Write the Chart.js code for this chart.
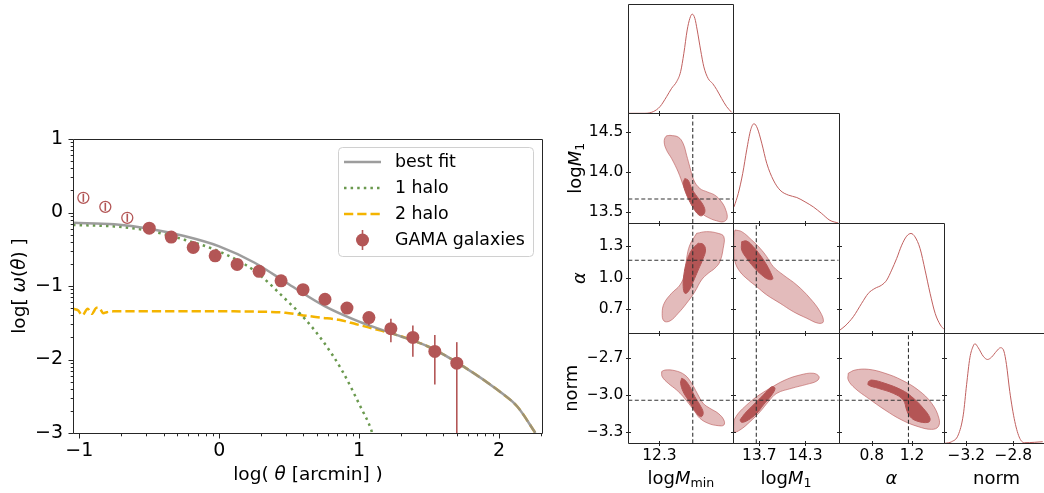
<!DOCTYPE html>
<html>
<head>
<meta charset="utf-8">
<script src="https://cdn.jsdelivr.net/npm/chart.js@4.4.0/dist/chart.umd.min.js"></script>
<style>
  html, body { margin: 0; padding: 0; background: #fff; }
  #wrap { position: relative; width: 1044px; height: 493px; overflow: hidden; }
  canvas { position: absolute; left: 0; top: 0; }
</style>
</head>
<body>
<div id="wrap"></div>
<script>
// ---- left panel: w(theta) ----
const thetaData = [-0.500, -0.343, -0.186, -0.029, 0.128, 0.285, 0.442, 0.599, 0.756, 0.913, 1.070, 1.227, 1.384, 1.541, 1.698];
const wData     = [-0.213, -0.335, -0.476, -0.590, -0.707, -0.800, -0.930, -1.050, -1.180, -1.300, -1.430, -1.580, -1.700, -1.890, -2.050];
const wErrHigh  = [-0.190, -0.310, -0.450, -0.565, -0.680, -0.770, -0.900, -1.015, -1.140, -1.250, -1.355, -1.445, -1.536, -1.668, -1.764];
const wErrLow   = [-0.235, -0.360, -0.500, -0.615, -0.735, -0.830, -0.960, -1.085, -1.220, -1.360, -1.536, -1.764, -1.964, -2.340, -3.600];

const thetaOpen    = [-0.971, -0.814, -0.657];
const wOpen        = [0.200, 0.077, -0.072];
const wOpenErrHigh = [0.255, 0.132, -0.017];
const wOpenErrLow  = [0.145, 0.022, -0.127];

const fitTheta = [-1.045, -0.75, -0.5, -0.25, 0, 0.25, 0.5, 0.75, 1.0, 1.25, 1.5, 1.75, 2.0, 2.13, 2.26];
const fitW     = [-0.14, -0.16, -0.22, -0.32, -0.46, -0.68, -0.98, -1.27, -1.485, -1.655, -1.83, -2.10, -2.43, -2.64, -3.0];

const oneHaloTheta = [-1.045, -0.75, -0.5, -0.25, 0, 0.25, 0.474, 0.614, 0.741, 0.881, 1.009, 1.085, 1.10];
const oneHaloW     = [-0.17, -0.19, -0.25, -0.37, -0.53, -0.79, -1.18, -1.45, -1.75, -2.16, -2.64, -2.95, -3.05];

const twoHaloTheta = [-1.043, -1.007, -0.979, -0.94, -0.911, -0.876, -0.852, -0.829, -0.804, -0.757, -0.5, 0, 0.3, 0.474, 0.6, 0.727, 0.856, 0.98, 1.11, 1.25, 1.5, 1.75, 2.0, 2.13, 2.26];
const twoHaloW     = [-1.31, -1.333, -1.40, -1.31, -1.378, -1.297, -1.31, -1.37, -1.356, -1.345, -1.345, -1.345, -1.35, -1.364, -1.40, -1.43, -1.46, -1.52, -1.585, -1.655, -1.83, -2.10, -2.43, -2.64, -3.0];

const thetaTicks = [-1, 0, 1, 2];
const thetaTickLabels = ['\u22121', '0', '1', '2'];
const wTicks = [-3, -2, -1, 0, 1];
const wTickLabels = ['\u22123', '\u22122', '\u22121', '0', '1'];

// ---- right panel: corner plot ----
const truthMmin = 12.6, truthM1 = 13.66, truthAlpha = 1.165, truthNorm = -3.04;

const mminTicks = [12.3], mminTickLabels = ['12.3'];
const m1XTicks = [13.7, 14.3], m1XTickLabels = ['13.7', '14.3'];
const m1YTicks = [13.5, 14.0, 14.5], m1YTickLabels = ['13.5', '14.0', '14.5'];
const alphaXTicks = [0.8, 1.2], alphaXTickLabels = ['0.8', '1.2'];
const alphaYTicks = [0.7, 1.0, 1.3], alphaYTickLabels = ['0.7', '1.0', '1.3'];
const normXTicks = [-3.2, -2.8], normXTickLabels = ['\u22123.2', '\u22122.8'];
const normYTicks = [-3.3, -3.0, -2.7], normYTickLabels = ['\u22123.3', '\u22123.0', '\u22122.7'];

const mminGrid = [12.02, 12.17, 12.245, 12.305, 12.365, 12.41, 12.455, 12.491, 12.52, 12.55, 12.574, 12.595, 12.619, 12.64, 12.671, 12.70, 12.739, 12.779, 12.815, 12.86, 12.905, 12.95];
const mminPdf  = [0, 0, 0.017, 0.067, 0.168, 0.252, 0.319, 0.42, 0.605, 0.84, 0.957, 1, 0.957, 0.84, 0.637, 0.468, 0.35, 0.30, 0.24, 0.15, 0.067, 0.01];
const m1Grid = [13.369, 13.425, 13.483, 13.535, 13.587, 13.63, 13.673, 13.731, 13.796, 13.882, 13.97, 14.078, 14.188, 14.296, 14.404, 14.514, 14.62, 14.73];
const m1Pdf  = [0.162, 0.298, 0.50, 0.737, 0.939, 1, 0.956, 0.804, 0.602, 0.433, 0.331, 0.281, 0.257, 0.213, 0.162, 0.095, 0.027, 0];
const alphaGrid = [0.475, 0.535, 0.617, 0.70, 0.766, 0.832, 0.899, 0.949, 0.998, 1.048, 1.098, 1.147, 1.19, 1.23, 1.28, 1.33, 1.38, 1.43, 1.482, 1.518];
const alphaPdf  = [0.026, 0.073, 0.166, 0.30, 0.40, 0.45, 0.483, 0.533, 0.633, 0.75, 0.883, 0.973, 1, 0.966, 0.85, 0.633, 0.40, 0.20, 0.083, 0.04];
const normGrid = [-3.381, -3.324, -3.268, -3.225, -3.197, -3.169, -3.141, -3.126, -3.098, -3.056, -3.019, -2.985, -2.942, -2.909, -2.88, -2.858, -2.83, -2.787, -2.745, -2.703, -2.618, -2.55];
const normPdf  = [0, 0.016, 0.084, 0.286, 0.589, 0.859, 0.976, 1, 0.96, 0.875, 0.842, 0.865, 0.926, 0.96, 0.926, 0.791, 0.521, 0.218, 0.05, 0.006, 0.01, 0.016];

// contours: outer = 2 sigma, inner = 1 sigma
const m1MminOuterX = [12.395, 12.469, 12.514, 12.545, 12.574, 12.610, 12.664, 12.730, 12.799, 12.859, 12.898, 12.909, 12.874, 12.814, 12.754, 12.679, 12.619, 12.559, 12.514, 12.469, 12.41, 12.365, 12.343, 12.359];
const m1MminOuterY = [14.459, 14.437, 14.355, 14.209, 14.062, 13.896, 13.793, 13.75, 13.709, 13.625, 13.521, 13.418, 13.375, 13.388, 13.418, 13.48, 13.563, 13.688, 13.834, 14.0, 14.168, 14.271, 14.375, 14.446];
const m1MminInnerX = [12.529, 12.559, 12.59, 12.64, 12.694, 12.709, 12.679, 12.64, 12.599, 12.559, 12.529, 12.514];
const m1MminInnerY = [13.918, 13.896, 13.793, 13.688, 13.584, 13.5, 13.45, 13.48, 13.563, 13.668, 13.771, 13.863];

const alphaMminOuterX = [12.635, 12.724, 12.829, 12.88, 12.874, 12.844, 12.799, 12.739, 12.679, 12.619, 12.545, 12.469, 12.395, 12.341, 12.325, 12.343, 12.41, 12.485, 12.529, 12.545, 12.574];
const alphaMminOuterY = [1.420, 1.436, 1.420, 1.388, 1.278, 1.151, 1.089, 1.041, 0.978, 0.867, 0.757, 0.662, 0.589, 0.589, 0.662, 0.757, 0.852, 0.930, 1.041, 1.183, 1.31];
const alphaMminInnerX = [12.649, 12.694, 12.715, 12.694, 12.649, 12.604, 12.559, 12.529, 12.514, 12.52, 12.545, 12.59];
const alphaMminInnerY = [1.326, 1.316, 1.262, 1.183, 1.072, 0.962, 0.867, 0.852, 0.914, 1.025, 1.151, 1.262];

const alphaM1OuterX = [13.382, 13.47, 13.60, 13.709, 13.796, 13.882, 14.013, 14.188, 14.361, 14.492, 14.535, 14.47, 14.318, 14.143, 13.97, 13.796, 13.666, 13.556, 13.447, 13.382, 13.369, 13.369];
const alphaM1OuterY = [1.452, 1.436, 1.357, 1.278, 1.199, 1.104, 1.025, 0.93, 0.804, 0.677, 0.582, 0.567, 0.615, 0.677, 0.757, 0.836, 0.914, 0.978, 1.056, 1.151, 1.278, 1.404];
const alphaM1InnerX = [13.47, 13.535, 13.621, 13.709, 13.796, 13.861, 13.874, 13.817, 13.731, 13.621, 13.535, 13.47];
const alphaM1InnerY = [1.341, 1.347, 1.293, 1.215, 1.12, 1.025, 0.987, 0.984, 1.025, 1.104, 1.183, 1.262];

const normMminOuterX = [12.32, 12.35, 12.44, 12.529, 12.59, 12.64, 12.694, 12.754, 12.829, 12.88, 12.88, 12.829, 12.739, 12.664, 12.619, 12.574, 12.514, 12.455, 12.379, 12.325];
const normMminOuterY = [-2.808, -2.795, -2.80, -2.835, -2.902, -2.984, -3.065, -3.105, -3.146, -3.2, -3.241, -3.246, -3.227, -3.186, -3.133, -3.078, -3.011, -2.957, -2.902, -2.849];
const normMminInnerX = [12.50, 12.529, 12.574, 12.619, 12.664, 12.694, 12.679, 12.649, 12.604, 12.559, 12.514, 12.491];
const normMminInnerY = [-2.862, -2.876, -2.93, -3.011, -3.078, -3.138, -3.173, -3.16, -3.105, -3.038, -2.971, -2.902];

const normM1OuterX = [13.369, 13.425, 13.535, 13.666, 13.839, 14.035, 14.231, 14.404, 14.479, 14.449, 14.318, 14.122, 13.927, 13.817, 13.709, 13.578, 13.447, 13.369];
const normM1OuterY = [-3.2, -3.146, -3.078, -3.011, -2.943, -2.876, -2.835, -2.821, -2.849, -2.884, -2.911, -2.943, -2.984, -3.052, -3.133, -3.214, -3.281, -3.295];
const normM1InnerX = [13.447, 13.513, 13.621, 13.752, 13.861, 13.904, 13.861, 13.752, 13.666, 13.556, 13.47];
const normM1InnerY = [-3.2, -3.146, -3.078, -2.997, -2.93, -2.943, -2.997, -3.078, -3.146, -3.2, -3.219];

const normAlphaOuterX = [0.567, 0.634, 0.766, 0.932, 1.098, 1.262, 1.396, 1.468, 1.461, 1.396, 1.262, 1.098, 0.932, 0.766, 0.634, 0.567];
const normAlphaOuterY = [-2.821, -2.795, -2.789, -2.821, -2.876, -2.957, -3.065, -3.187, -3.254, -3.276, -3.254, -3.2, -3.119, -3.024, -2.943, -2.876];
const normAlphaInnerX = [0.766, 0.80, 0.932, 1.098, 1.197, 1.312, 1.379, 1.362, 1.247, 1.18, 1.147, 1.113, 1.014, 0.865, 0.766];
const normAlphaInnerY = [-2.89, -2.876, -2.903, -2.957, -3.011, -3.105, -3.186, -3.219, -3.208, -3.172, -3.119, -3.038, -2.984, -2.943, -2.916];

// ---- setup ----
const W = 1044, H = 493, YW = 40, XH = 30;
const red = '#b35656';
const histColor = '#c0605f';
const wrap = document.getElementById('wrap');

Chart.defaults.font.family = "'DejaVu Sans', sans-serif";
Chart.defaults.color = '#000';
Chart.defaults.animation = false;
Chart.defaults.events = [];
Chart.defaults.plugins.legend.display = false;
Chart.defaults.plugins.tooltip.enabled = false;

const zip = (xs, ys) => xs.map((x, i) => ({ x, y: ys[i] }));
const loop = (xs, ys) => { const p = zip(xs, ys); p.push({ ...p[0] }); return p; };

function axis(a, dir) {
  return {
    type: 'linear', min: a.min, max: a.max,
    afterBuildTicks: s => { s.ticks = (a.ticks || []).map(v => ({ value: v })); },
    afterFit: s => { if (dir === 'x') s.height = XH; else s.width = YW; },
    grid: { display: false, drawTicks: false },
    border: { display: false },
    ticks: {
      display: !!a.labels,
      callback: (v, i) => (a.labels ? a.labels[i] : ''),
      font: { size: a.size || 15.5 },
      padding: a.pad || 0,
      maxRotation: 0, minRotation: 0, autoSkip: false, color: '#000'
    }
  };
}

function makeChart(rect, xa, ya, datasets, plugins) {
  const c = document.createElement('canvas');
  c.width = W; c.height = H;
  c.style.width = W + 'px'; c.style.height = H + 'px';
  wrap.appendChild(c);
  return new Chart(c, {
    type: 'line',
    data: { datasets },
    options: {
      responsive: false, devicePixelRatio: 1,
      layout: { padding: { left: rect[0] - YW, top: rect[1], right: W - rect[2], bottom: H - rect[3] - XH } },
      elements: { point: { radius: 0 }, line: { borderCapStyle: 'butt' } },
      scales: { x: axis(xa, 'x'), y: axis(ya, 'y') }
    },
    plugins
  });
}

// frame + tick marks, through the chart scales
function frame(o) {
  return {
    id: 'frame',
    afterDatasetsDraw(chart) {
      const { ctx, chartArea: a, scales: { x, y } } = chart;
      const L = Math.round(a.left) + 0.5, R = Math.round(a.right) + 0.5;
      const T = Math.round(a.top) + 0.5, B = Math.round(a.bottom) + 0.5;
      ctx.save();
      ctx.strokeStyle = '#262626';
      ctx.lineWidth = 1;
      ctx.beginPath();
      const sides = o.sides || 'tlbr';
      if (sides.includes('t')) { ctx.moveTo(L, T); ctx.lineTo(R, T); }
      if (sides.includes('b')) { ctx.moveTo(L, B); ctx.lineTo(R, B); }
      if (sides.includes('l')) { ctx.moveTo(L, T); ctx.lineTo(L, B); }
      if (sides.includes('r')) { ctx.moveTo(R, T); ctx.lineTo(R, B); }
      const mark = (vals, horiz, edge, a1, a2) => vals.forEach(v => {
        if (horiz) { const p = Math.round(x.getPixelForValue(v)) + 0.5; ctx.moveTo(p, edge + a1); ctx.lineTo(p, edge + a2); }
        else { const p = Math.round(y.getPixelForValue(v)) + 0.5; ctx.moveTo(edge + a1, p); ctx.lineTo(edge + a2, p); }
      });
      if (o.inout) {
        const t = 2.5;
        if (o.xt) { mark(o.xt, true, B, -t, t); if (o.top) mark(o.xt, true, T, -t, t); }
        if (o.yt) { mark(o.yt, false, L, -t, t); if (o.right) mark(o.yt, false, R, -t, t); }
      } else {
        if (o.xt) mark(o.xt, true, B, 0, 5);
        if (o.yt) mark(o.yt, false, L, -5, 0);
        if (o.xm) mark(o.xm, true, B, 0, 2.8);
        if (o.ym) mark(o.ym, false, L, -2.8, 0);
      }
      ctx.stroke();
      ctx.restore();
    }
  };
}

function rich(ctx, parts, x, y, size, rot) {
  ctx.save();
  ctx.translate(x, y);
  if (rot) ctx.rotate(rot);
  ctx.textBaseline = 'middle';
  ctx.textAlign = 'left';
  ctx.fillStyle = '#000';
  const fontFor = p => (p[1] === 'i' ? 'italic ' : '') + (p[1] === 's' ? size * 0.7 : size) + "px 'DejaVu Sans'";
  let total = 0;
  const ws = parts.map(p => { ctx.font = fontFor(p); const w = ctx.measureText(p[0]).width; total += w; return w; });
  let cx = -total / 2;
  parts.forEach((p, i) => {
    ctx.font = fontFor(p);
    ctx.fillText(p[0], cx, p[1] === 's' ? size * 0.24 : 0);
    cx += ws[i];
  });
  ctx.restore();
}

function labels(items) {
  return { id: 'labels', afterDraw(chart) { items.forEach(it => rich(chart.ctx, it.parts, it.x, it.y, it.size, it.rot)); } };
}

const logMinor = (lo, hi) => {
  const out = [];
  for (let k = Math.floor(lo); k < hi; k++) {
    for (let n = 2; n < 10; n++) { const v = k + Math.log10(n); if (v > lo && v < hi) out.push(v); }
  }
  return out;
};

// ---- left chart ----
const errorBars = {
  id: 'errorBars',
  afterDatasetsDraw(chart) {
    const { ctx, chartArea: a, scales: { x, y } } = chart;
    ctx.save();
    ctx.beginPath(); ctx.rect(a.left, a.top, a.right - a.left, a.bottom - a.top); ctx.clip();
    ctx.strokeStyle = red; ctx.lineWidth = 1.6;
    chart.data.datasets.forEach(ds => {
      if (!ds.errLow) return;
      ds.data.forEach((p, i) => {
        const px = x.getPixelForValue(p.x);
        ctx.beginPath();
        ctx.moveTo(px, y.getPixelForValue(ds.errLow[i]));
        ctx.lineTo(px, y.getPixelForValue(ds.errHigh[i]));
        ctx.stroke();
      });
    });
    ctx.restore();
  }
};

const legendBox = {
  id: 'legendBox',
  afterDraw(chart) {
    const ctx = chart.ctx;
    const ds = chart.data.datasets;
    const items = [ds[2], ds[3], ds[4], ds[0]];
    ctx.save();
    ctx.beginPath();
    ctx.roundRect(338.5, 147.5, 195, 109, 4);
    ctx.fillStyle = 'rgba(255,255,255,0.8)'; ctx.fill();
    ctx.strokeStyle = '#d0d0d0'; ctx.lineWidth = 1; ctx.stroke();
    items.forEach((d, i) => {
      const yy = 162 + i * 26;
      if (d.showLine === false) {
        ctx.strokeStyle = red; ctx.lineWidth = 1.6; ctx.setLineDash([]);
        ctx.beginPath(); ctx.moveTo(362.5, yy - 10); ctx.lineTo(362.5, yy + 10); ctx.stroke();
        ctx.fillStyle = red; ctx.beginPath(); ctx.arc(362.5, yy, 6.5, 0, Math.PI * 2); ctx.fill();
      } else {
        ctx.strokeStyle = d.borderColor; ctx.lineWidth = d.borderWidth; ctx.setLineDash(d.borderDash || []);
        ctx.beginPath(); ctx.moveTo(344, yy); ctx.lineTo(381, yy); ctx.stroke();
      }
      ctx.setLineDash([]);
      ctx.fillStyle = '#000'; ctx.font = "17.4px 'DejaVu Sans'"; ctx.textBaseline = 'middle'; ctx.textAlign = 'left';
      ctx.fillText(d.label, 395, yy);
    });
    ctx.restore();
  }
};

const thetaAxis = { min: -1.045, max: 2.307, ticks: thetaTicks, labels: thetaTickLabels, size: 19, pad: 7 };
const wAxis = { min: -3, max: 1, ticks: wTicks, labels: wTickLabels, size: 19, pad: 10 };

makeChart([73, 139, 542, 433], thetaAxis, wAxis, [
  { label: 'GAMA galaxies', data: zip(thetaData, wData), showLine: false, pointRadius: 6.5, pointBackgroundColor: red, pointBorderWidth: 0, errLow: wErrLow, errHigh: wErrHigh },
  { label: '', data: zip(thetaOpen, wOpen), showLine: false, pointRadius: 5.5, pointBackgroundColor: 'rgba(0,0,0,0)', pointBorderColor: red, pointBorderWidth: 1.3, errLow: wOpenErrLow, errHigh: wOpenErrHigh },
  { label: 'best fit', data: zip(fitTheta, fitW), borderColor: 'rgba(140,140,140,0.85)', borderWidth: 2.5, cubicInterpolationMode: 'monotone' },
  { label: '1 halo', data: zip(oneHaloTheta, oneHaloW), borderColor: '#6a994e', borderWidth: 2.5, borderDash: [2.5, 4.1], cubicInterpolationMode: 'monotone' },
  { label: '2 halo', data: zip(twoHaloTheta, twoHaloW), borderColor: '#f4b400', borderWidth: 2.5, borderDash: [9.25, 4], cubicInterpolationMode: 'monotone' }
], [
  errorBars,
  frame({ xt: thetaTicks, yt: wTicks, xm: logMinor(-1.045, 2.307), ym: logMinor(-3, 1) }),
  legendBox,
  labels([
    { parts: [['log[ ', ''], ['\u03c9', 'i'], ['(', ''], ['\u03b8', 'i'], [') ]', '']], x: 20, y: 286, size: 18.5, rot: -Math.PI / 2 },
    { parts: [['log( ', ''], ['\u03b8', 'i'], [' [arcmin] )', '']], x: 308, y: 475, size: 18.5 }
  ])
]);

// ---- corner plot ----
const colEdges = [628.3, 733.3, 838.7, 944, 1044];
const rowEdges = [3.7, 113.3, 223, 333.3, 443.3];

const params = [
  { x: { min: 12.02, max: 12.965, ticks: mminTicks, labels: mminTickLabels }, truth: truthMmin, pdf: [mminGrid, mminPdf] },
  { x: { min: 13.36, max: 14.735, ticks: m1XTicks, labels: m1XTickLabels }, y: { min: 13.36, max: 14.735, ticks: m1YTicks, labels: m1YTickLabels }, truth: truthM1, pdf: [m1Grid, m1Pdf] },
  { x: { min: 0.472, max: 1.518, ticks: alphaXTicks, labels: alphaXTickLabels }, y: { min: 0.472, max: 1.518, ticks: alphaYTicks, labels: alphaYTickLabels }, truth: truthAlpha, pdf: [alphaGrid, alphaPdf] },
  { x: { min: -3.389, max: -2.539, ticks: normXTicks, labels: normXTickLabels }, y: { min: -3.389, max: -2.497, ticks: normYTicks, labels: normYTickLabels }, truth: truthNorm, pdf: [normGrid, normPdf] }
];

const contours = {
  '0,1': [[m1MminOuterX, m1MminOuterY], [m1MminInnerX, m1MminInnerY]],
  '0,2': [[alphaMminOuterX, alphaMminOuterY], [alphaMminInnerX, alphaMminInnerY]],
  '1,2': [[alphaM1OuterX, alphaM1OuterY], [alphaM1InnerX, alphaM1InnerY]],
  '0,3': [[normMminOuterX, normMminOuterY], [normMminInnerX, normMminInnerY]],
  '1,3': [[normM1OuterX, normM1OuterY], [normM1InnerX, normM1InnerY]],
  '2,3': [[normAlphaOuterX, normAlphaOuterY], [normAlphaInnerX, normAlphaInnerY]]
};

const xTitles = [
  [['log', ''], ['M', 'i'], ['min', 's']],
  [['log', ''], ['M', 'i'], ['1', 's']],
  [['\u03b1', 'i']],
  [['norm', '']]
];
const yTitles = { 1: { parts: xTitles[1], x: 576 }, 2: { parts: xTitles[2], x: 580 }, 3: { parts: xTitles[3], x: 572 } };

for (let r = 0; r < 4; r++) {
  for (let c = 0; c <= r; c++) {
    const rect = [colEdges[c], rowEdges[r], colEdges[c + 1], rowEdges[r + 1]];
    const px = params[c];
    const xa = { ...px.x, labels: r === 3 ? px.x.labels : null, pad: 3 };
    const lab = [];
    if (r === 3) lab.push({ parts: xTitles[c], x: (rect[0] + Math.min(rect[2], 1049.3)) / 2 + (c === 3 ? 2.5 : 0), y: 479, size: 18 });
    if (c === 0 && r > 0) lab.push({ parts: yTitles[r].parts, x: yTitles[r].x, y: (rect[1] + rect[3]) / 2, size: 18, rot: -Math.PI / 2 });
    let datasets, ya, fr;
    if (c === r) {
      ya = { min: 0, max: 1.105, ticks: [] };
      datasets = [{ data: zip(px.pdf[0], px.pdf[1]), borderColor: histColor, borderWidth: 1, cubicInterpolationMode: 'monotone' }];
      fr = frame({ inout: true, sides: c === 3 ? 'tlb' : 'tlbr', xt: r === 3 ? px.x.ticks : null });
    } else {
      const py = params[r];
      ya = { ...py.y, labels: c === 0 ? py.y.labels : null, pad: 5 };
      const [outer, inner] = contours[c + ',' + r];
      datasets = [
        { data: [{ x: px.truth, y: py.y.min }, { x: px.truth, y: py.y.max }], borderColor: '#333', borderWidth: 1.1, borderDash: [4, 2.5] },
        { data: [{ x: px.x.min, y: py.truth }, { x: px.x.max, y: py.truth }], borderColor: '#333', borderWidth: 1.1, borderDash: [4, 2.5] },
        { data: loop(inner[0], inner[1]), fill: 'shape', backgroundColor: '#b45555', borderColor: '#b45555', borderWidth: 1, tension: 0.4 },
        { data: loop(outer[0], outer[1]), fill: 'shape', backgroundColor: 'rgba(185,85,85,0.40)', borderColor: 'rgba(185,85,85,0.6)', borderWidth: 1, tension: 0.4 }
      ];
      fr = frame({ inout: true, xt: px.x.ticks, yt: py.y.ticks, top: true, right: true });
    }
    makeChart(rect, xa, ya, datasets, [fr, labels(lab)]);
  }
}
</script>
</body>
</html>
